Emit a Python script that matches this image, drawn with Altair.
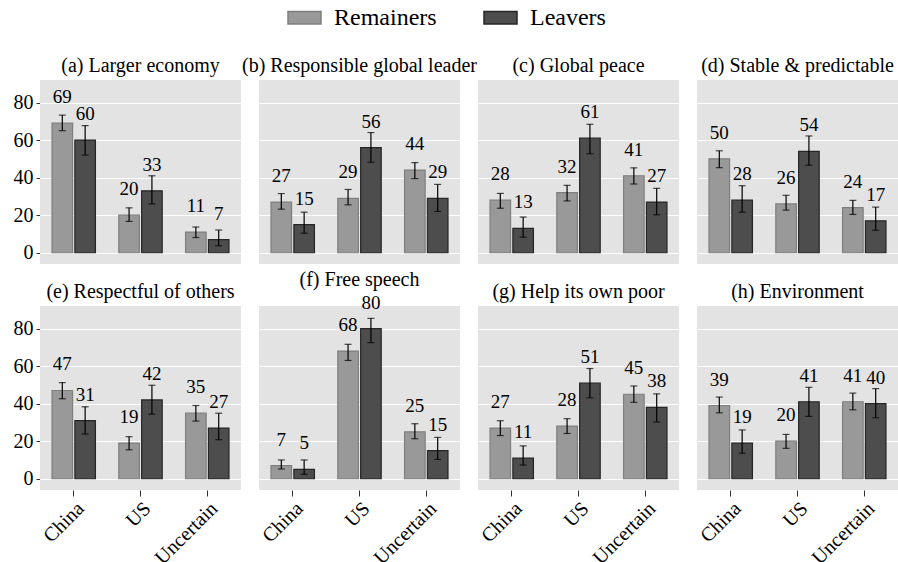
import altair as alt
import pandas as pd

panels = [
    "(a) Larger economy", "(b) Responsible global leader", "(c) Global peace",
    "(d) Stable & predictable", "(e) Respectful of others", "(f) Free speech",
    "(g) Help its own poor", "(h) Environment",
]
categories = ["China", "US", "Uncertain"]
groups = ["Remainers", "Leavers"]

# Percentages per panel, in category order China, US, Uncertain
remain_vals = [[69, 20, 11], [27, 29, 44], [28, 32, 41], [50, 26, 24],
               [47, 19, 35], [7, 68, 25], [27, 28, 45], [39, 20, 41]]
leave_vals = [[60, 33, 7], [15, 56, 29], [13, 61, 27], [28, 54, 17],
              [31, 42, 27], [5, 80, 15], [11, 51, 38], [19, 41, 40]]

# 95% interval bounds
remain_lo = [[65.0, 16.7, 8.1], [23.2, 25.5, 39.5], [23.7, 27.6, 36.6], [45.3, 22.7, 20.4],
             [42.6, 15.4, 30.7], [5.2, 63.0, 21.3], [23.0, 24.1, 40.7], [35.1, 16.2, 36.7]]
remain_hi = [[73.3, 23.9, 13.7], [31.5, 33.7, 48.0], [31.6, 35.9, 45.2], [54.3, 30.6, 27.9],
             [51.2, 22.4, 39.0], [10.0, 71.6, 29.3], [30.9, 32.0, 49.4], [43.5, 23.6, 45.6]]
leave_lo = [[52.0, 26.0, 3.7], [10.4, 48.2, 22.0], [8.3, 52.7, 20.2], [21.6, 46.6, 12.0],
            [23.8, 34.4, 20.8], [2.4, 72.5, 10.3], [7.3, 43.1, 30.2], [13.6, 33.2, 32.5]]
leave_hi = [[67.7, 41.0, 12.1], [21.6, 64.0, 36.4], [19.0, 68.4, 34.3], [35.7, 62.2, 24.3],
            [38.3, 49.8, 34.9], [10.0, 85.4, 22.0], [17.5, 58.7, 45.2], [26.0, 48.7, 48.0]]

rows = []
for p, panel in enumerate(panels):
    for c, cat in enumerate(categories):
        rows.append(dict(panel=panel, country=cat, group="Remainers",
                         value=remain_vals[p][c], lo=remain_lo[p][c], hi=remain_hi[p][c]))
        rows.append(dict(panel=panel, country=cat, group="Leavers",
                         value=leave_vals[p][c], lo=leave_lo[p][c], hi=leave_hi[p][c]))
df = pd.DataFrame(rows)

FONT = "'Liberation Serif', 'Times New Roman', Times, serif"

x_enc = alt.X("country:N", sort=categories, title=None,
              scale=alt.Scale(paddingInner=0.35, paddingOuter=0.18),
              axis=alt.Axis(labelAngle=-45, labelFontSize=20, labelFont=FONT,
                            labelColor="black", tickColor="#333333", tickSize=6,
                            domain=False, grid=False, labelPadding=2))
xoff_enc = alt.XOffset("group:N", sort=groups,
                       scale=alt.Scale(paddingInner=0.1, paddingOuter=0))
y_scale = alt.Scale(domain=[-6, 92], nice=False, zero=False)

fill_scale = alt.Scale(domain=groups, range=["#999999", "#4d4d4d"])
stroke_scale = alt.Scale(domain=groups, range=["#7f7f7f", "#262626"])

legend = alt.Legend(title=None, orient="none", direction="horizontal",
                    legendX=247, legendY=-80,
                    labelFont=FONT, labelFontSize=24, labelColor="black",
                    symbolType="M-1,-0.38H1V0.38H-1Z", symbolSize=1089,
                    symbolStrokeWidth=1.5, labelOffset=12, columnPadding=44)

bars = alt.Chart().mark_bar(strokeWidth=1.2).encode(
    x=x_enc,
    xOffset=xoff_enc,
    y=alt.Y("value:Q", scale=y_scale, title=None,
            axis=alt.Axis(values=[0, 20, 40, 60, 80], labelFontSize=20, labelFont=FONT,
                          labelColor="black", tickColor="#333333", tickSize=4,
                          domain=False, gridColor="white", gridWidth=1.2,
                          labelPadding=3)),
    fill=alt.Fill("group:N", sort=groups, scale=fill_scale, legend=legend),
    stroke=alt.Stroke("group:N", sort=groups, scale=stroke_scale, legend=legend),
)

err = alt.Chart().mark_rule(color="black", strokeWidth=1.2).encode(
    x=x_enc, xOffset=xoff_enc, y=alt.Y("lo:Q"), y2="hi:Q")

cap_lo = alt.Chart().mark_tick(color="black", orient="horizontal", size=7,
                               thickness=1.2).encode(
    x=x_enc, xOffset=xoff_enc, y=alt.Y("lo:Q"))
cap_hi = alt.Chart().mark_tick(color="black", orient="horizontal", size=7,
                               thickness=1.2).encode(
    x=x_enc, xOffset=xoff_enc, y=alt.Y("hi:Q"))

labels = alt.Chart().mark_text(font=FONT, fontSize=19, color="black",
                               baseline="bottom", dy=-16).encode(
    x=x_enc, xOffset=xoff_enc, y=alt.Y("value:Q"), text="value:Q")

layer = alt.layer(bars, err, cap_lo, cap_hi, labels, data=df).properties(
    width=201, height=184)

chart = layer.facet(
    facet=alt.Facet("panel:N", sort=panels, title=None,
                    header=alt.Header(labelFont=FONT, labelFontSize=20,
                                      labelColor="black", labelPadding=4)),
    columns=4,
    spacing={"row": 42, "column": 18},
    bounds="flush",
).resolve_scale(x="shared", y="shared").configure(
    font=FONT
).configure_view(
    fill="#e3e3e3", stroke=None
).properties(
    padding={"left": 13, "top": 0, "right": 0, "bottom": 0}
)

chart.save("out.html", embed_options={"renderer": "svg", "actions": False})
